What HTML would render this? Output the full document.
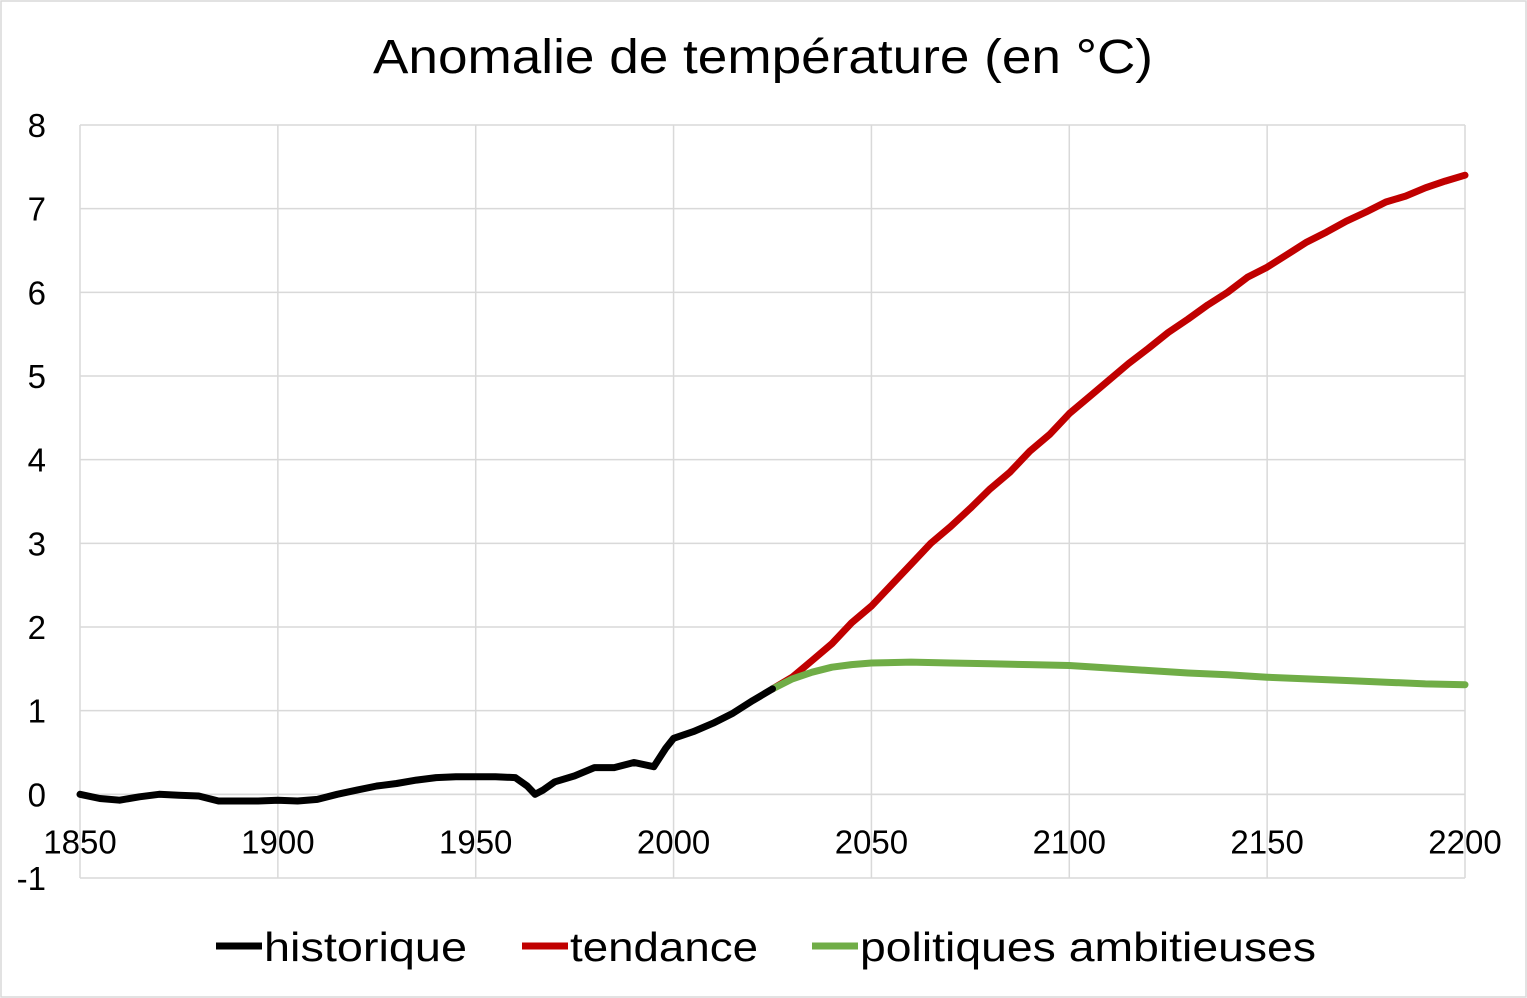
<!DOCTYPE html>
<html><head><meta charset="utf-8"><style>
html,body{margin:0;padding:0;background:#fff;}
svg{display:block;font-family:"Liberation Sans",sans-serif;}
</style></head><body>
<svg id="chart" width="1527" height="998">
<rect x="1" y="1" width="1525" height="996" fill="#fff" stroke="#d9d9d9" stroke-width="1.5"/>
<text x="373" y="73" textLength="780" lengthAdjust="spacingAndGlyphs" font-size="48" fill="#000">Anomalie de température (en °C)</text>
<g id="grid"></g><g id="series"></g><g id="ticks"></g>
<g>
<line x1="216" y1="946" x2="262" y2="946" stroke="#000" stroke-width="7"/>
<text x="264" y="961" font-size="41" textLength="203" lengthAdjust="spacingAndGlyphs">historique</text>
<line x1="522" y1="946" x2="568" y2="946" stroke="#c00000" stroke-width="7"/>
<text x="570" y="961" font-size="41" textLength="188" lengthAdjust="spacingAndGlyphs">tendance</text>
<line x1="812" y1="946" x2="858" y2="946" stroke="#70ad47" stroke-width="7"/>
<text x="860" y="961" font-size="41" textLength="456" lengthAdjust="spacingAndGlyphs">politiques ambitieuses</text>
</g>
</svg>
<script>
const xTicks=[1850,1900,1950,2000,2050,2100,2150,2200];
const yTicks=[-1,0,1,2,3,4,5,6,7,8];
const histYears=[1850,1855,1860,1865,1870,1875,1880,1885,1890,1895,1900,1905,1910,1915,1920,1925,1930,1935,1940,1945,1950,1955,1960,1963,1965,1967,1970,1975,1980,1985,1990,1995,1998,2000,2005,2010,2015,2020,2025];
const histVals=[0,-0.05,-0.07,-0.03,0,-0.01,-0.02,-0.08,-0.08,-0.08,-0.07,-0.08,-0.06,0,0.05,0.1,0.13,0.17,0.2,0.21,0.21,0.21,0.2,0.1,0,0.05,0.15,0.22,0.32,0.32,0.38,0.33,0.55,0.67,0.75,0.85,0.97,1.12,1.26];
const projYears=[2025,2030,2035,2040,2045,2050,2055,2060,2065,2070,2075,2080,2085,2090,2095,2100,2105,2110,2115,2120,2125,2130,2135,2140,2145,2150,2155,2160,2165,2170,2175,2180,2185,2190,2195,2200];
const tendVals=[1.26,1.4,1.6,1.8,2.05,2.25,2.5,2.75,3.0,3.2,3.42,3.65,3.85,4.1,4.3,4.55,4.75,4.95,5.15,5.33,5.52,5.68,5.85,6.0,6.18,6.3,6.45,6.6,6.72,6.85,6.96,7.08,7.15,7.25,7.33,7.4];
const ambYears=[2025,2030,2035,2040,2045,2050,2060,2070,2080,2090,2100,2110,2120,2130,2140,2150,2160,2170,2180,2190,2200];
const ambVals=[1.26,1.38,1.46,1.52,1.55,1.57,1.58,1.57,1.56,1.55,1.54,1.51,1.48,1.45,1.43,1.4,1.38,1.36,1.34,1.32,1.31];
const X0=80,X1=1465,Y0=878,Y1=125;
const xs=v=>X0+(v-1850)/(2200-1850)*(X1-X0);
const ys=v=>Y0-(v+1)/9*(Y0-Y1);
const NS="http://www.w3.org/2000/svg";
const grid=document.getElementById('grid'),ticks=document.getElementById('ticks'),series=document.getElementById('series');
function mk(t,a){const e=document.createElementNS(NS,t);for(const k in a)e.setAttribute(k,a[k]);return e;}
yTicks.forEach(v=>{const l=mk('line',{x1:X0,x2:X1,y1:ys(v),y2:ys(v),stroke:'#d9d9d9','stroke-width':1.5});

grid.appendChild(l);
const t=mk('text',{x:46,y:ys(v)+12,'text-anchor':'end','font-size':33});t.textContent=v;

ticks.appendChild(t);});
xTicks.forEach(v=>{const l=mk('line',{x1:xs(v),x2:xs(v),y1:Y1,y2:Y0,stroke:'#d9d9d9','stroke-width':1.5});

grid.appendChild(l);
const t=mk('text',{x:xs(v),y:ys(0)+59,'text-anchor':'middle','font-size':33});t.textContent=v;

ticks.appendChild(t);});
const ax=mk('line',{x1:X0,x2:X1,y1:ys(0),y2:ys(0),stroke:'#d9d9d9','stroke-width':1.5});

grid.appendChild(ax);
function line(xsArr,vals,color,name){const d=xsArr.map((x,i)=>(i?'L':'M')+xs(x).toFixed(1)+','+ys(vals[i]).toFixed(1)).join('');
const p=mk('path',{d:d,fill:'none',stroke:color,'stroke-width':7,'stroke-linejoin':'round','stroke-linecap':'round'});

series.appendChild(p);}
line(projYears,tendVals,'#c00000','tendance-line');
line(ambYears,ambVals,'#70ad47','politiques-ambitieuses-line');
line(histYears,histVals,'#000','historique-line');
</script>
</body></html>
